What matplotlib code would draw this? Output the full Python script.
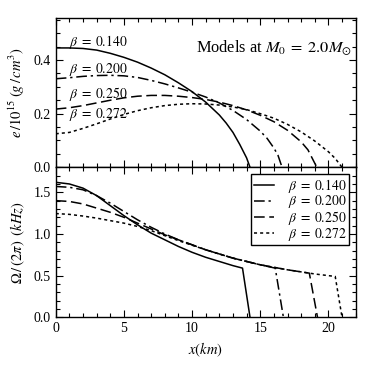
import matplotlib
matplotlib.use("Agg")
import matplotlib.pyplot as plt
from matplotlib.ticker import MultipleLocator

plt.rcParams['font.family'] = ['Liberation Serif', 'DejaVu Serif']
plt.rcParams['mathtext.fontset'] = 'stix'

betas = ["0.140", "0.200", "0.250", "0.272"]

# Energy density profiles e/10^15 (g/cm^3)
x_e_140 = [0, 1, 2, 3, 4, 5, 6, 7, 8, 9, 10, 11, 12, 12.5, 13, 13.5, 14, 14.25]
e_140 = [0.445, 0.445, 0.443, 0.437, 0.425, 0.410, 0.392, 0.370, 0.345, 0.315,
         0.282, 0.243, 0.195, 0.165, 0.130, 0.085, 0.035, 0.0]
x_e_200 = [0, 1, 2, 3, 4, 5, 6, 7, 8, 9, 10, 11, 12, 13, 14, 15, 15.5, 16, 16.3, 16.6]
e_200 = [0.330, 0.334, 0.339, 0.342, 0.343, 0.341, 0.335, 0.324, 0.311, 0.296,
         0.280, 0.262, 0.240, 0.212, 0.178, 0.135, 0.108, 0.072, 0.045, 0.0]
x_e_250 = [0, 1, 2, 3, 4, 5, 6, 7, 8, 9, 10, 11, 12, 13, 14, 15, 16, 17, 18, 18.5, 19.15]
e_250 = [0.217, 0.222, 0.230, 0.240, 0.250, 0.259, 0.265, 0.268, 0.268, 0.265,
         0.260, 0.253, 0.243, 0.230, 0.214, 0.194, 0.170, 0.138, 0.095, 0.065, 0.0]
x_e_272 = [0, 1, 2, 3, 4, 5, 6, 7, 8, 9, 10, 11, 12, 13, 14, 15, 16, 17, 18, 19, 20, 20.5, 21.0]
e_272 = [0.125, 0.130, 0.145, 0.162, 0.180, 0.197, 0.211, 0.222, 0.230, 0.235,
         0.237, 0.236, 0.232, 0.225, 0.215, 0.200, 0.183, 0.160, 0.132, 0.098,
         0.058, 0.033, 0.0]

# Angular velocity profiles Omega/(2 pi) (kHz)
x_w_140 = [0, 1, 2, 3, 4, 5, 6, 7, 8, 9, 10, 11, 12, 13, 13.7, 14.25]
w_140 = [1.62, 1.60, 1.55, 1.46, 1.34, 1.22, 1.11, 1.01, 0.93, 0.85, 0.78,
         0.72, 0.67, 0.62, 0.59, 0.0]
x_w_200 = [0, 1, 2, 3, 4, 5, 6, 7, 8, 9, 10, 11, 12, 13, 14, 15, 16.1, 16.7]
w_200 = [1.57, 1.56, 1.53, 1.46, 1.37, 1.27, 1.17, 1.08, 1.00, 0.93, 0.87,
         0.81, 0.76, 0.71, 0.67, 0.63, 0.59, 0.0]
x_w_250 = [0, 1, 2, 3, 4, 5, 6, 7, 8, 9, 10, 11, 12, 13, 14, 15, 16, 17, 18, 18.6, 19.2]
w_250 = [1.40, 1.39, 1.36, 1.31, 1.26, 1.20, 1.13, 1.06, 0.99, 0.93, 0.87,
         0.81, 0.76, 0.71, 0.67, 0.63, 0.60, 0.57, 0.545, 0.53, 0.0]
x_w_272 = [0, 1, 2, 3, 4, 5, 6, 7, 8, 9, 10, 11, 12, 13, 14, 15, 16, 17, 18, 19, 20, 20.5, 21.0]
w_272 = [1.245, 1.235, 1.215, 1.19, 1.16, 1.13, 1.09, 1.04, 0.98, 0.92, 0.865,
         0.81, 0.76, 0.71, 0.67, 0.63, 0.60, 0.57, 0.545, 0.52, 0.50, 0.49, 0.0]

styles = ['-', (0, (7, 2.5, 1.5, 2.5)), (0, (7, 3)), (0, (2, 2))]

fig = plt.figure(figsize=(3.74, 3.74), dpi=100)
ax1 = fig.add_axes([0.149, 0.5527, 0.802, 0.398])
ax2 = fig.add_axes([0.149, 0.1516, 0.802, 0.4011])

e_sets = [(x_e_140, e_140), (x_e_200, e_200), (x_e_250, e_250), (x_e_272, e_272)]
w_sets = [(x_w_140, w_140), (x_w_200, w_200), (x_w_250, w_250), (x_w_272, w_272)]

def blabel(b):
    return r'$\beta\;=\;%s$' % b

for (xs, ys), ls in zip(e_sets, styles):
    ax1.plot(xs, ys, color='black', lw=1.1, linestyle=ls)
for (xs, ys), ls, b in zip(w_sets, styles, betas):
    ax2.plot(xs, ys, color='black', lw=1.1, linestyle=ls, label=blabel(b))

# beta labels in the upper panel
label_y = [0.468, 0.365, 0.273, 0.195]
for b, yy in zip(betas, label_y):
    ax1.text(1.0, yy, blabel(b), fontsize=9.8, va='center', ha='left')
ax1.text(21.75, 0.445, r'Models at $M_0\;=\;2.0M_{\odot}$', fontsize=11.8,
         ha='right', va='center')

ax1.set_xlim(0, 22)
ax1.set_ylim(0, 0.555)
ax2.set_xlim(0, 22)
ax2.set_ylim(0, 1.8)

for ax in (ax1, ax2):
    ax.xaxis.set_major_locator(MultipleLocator(5))
    ax.xaxis.set_minor_locator(MultipleLocator(1))
    ax.tick_params(which='both', direction='in', top=True, right=True, labelsize=10)
    ax.tick_params(which='major', length=5, width=0.8)
    ax.tick_params(which='minor', length=3, width=0.8)
    for s in ax.spines.values():
        s.set_linewidth(1.0)

ax1.yaxis.set_major_locator(MultipleLocator(0.2))
ax1.yaxis.set_minor_locator(MultipleLocator(0.05))
ax1.tick_params(labelbottom=False)
ax2.yaxis.set_major_locator(MultipleLocator(0.5))
ax2.yaxis.set_minor_locator(MultipleLocator(0.1))

ax1.set_ylabel(r'$e\,/10^{15}\;(g\,/\,cm^3)$', fontsize=10.5)
ax2.set_ylabel(r'$\Omega\,/\,(2\pi)\;\;(kHz)$', fontsize=10.5)
ax2.set_xlabel(r'$x(km)$', fontsize=10.5)
ax1.yaxis.set_label_coords(-0.095, 0.5)
ax2.yaxis.set_label_coords(-0.095, 0.5)

leg = ax2.legend(loc='upper right', fontsize=9.8, frameon=True, fancybox=False,
                 edgecolor='black', framealpha=1, handlelength=1.5,
                 borderaxespad=0.5, labelspacing=-0.1, handletextpad=1.0,
                 borderpad=0.2)
leg.get_frame().set_linewidth(1.0)

fig.savefig('out.png', dpi=100)
